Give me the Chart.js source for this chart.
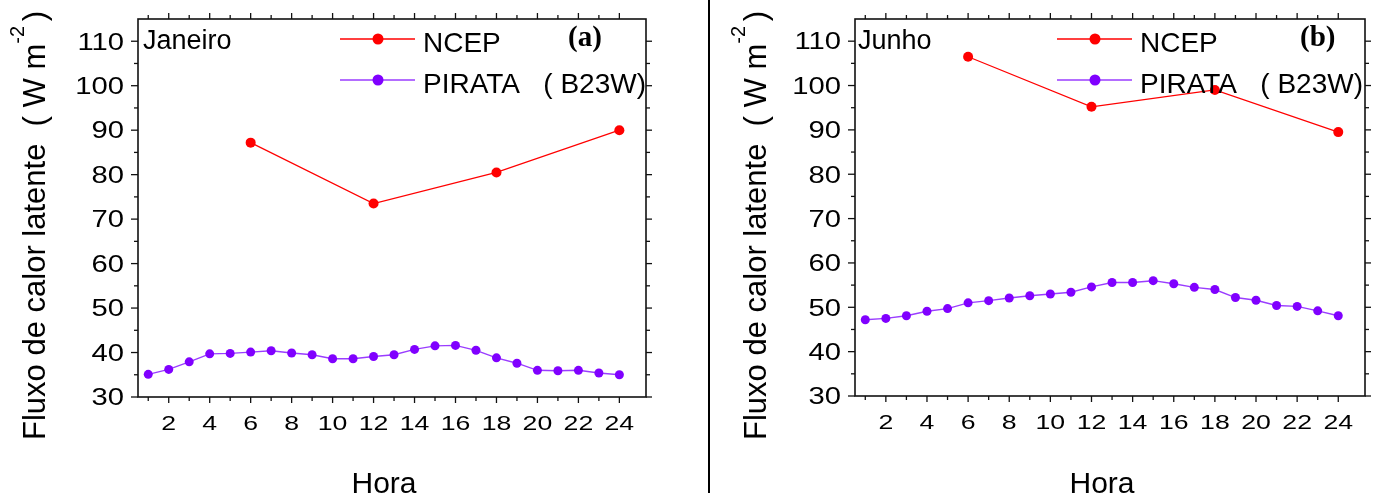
<!DOCTYPE html>
<html>
<head>
<meta charset="utf-8">
<script src="https://cdn.jsdelivr.net/npm/chart.js@4/dist/chart.umd.min.js"></script>
<style>
  body { margin: 0; background: #fff; width: 1380px; height: 495px; position: relative; overflow: hidden; }
  #sep { position: absolute; left: 708px; top: 0; width: 2px; height: 493px; background: #000; }
  #chart-a { position: absolute; left: 0; top: 0; }
  #chart-b { position: absolute; left: 710px; top: 0; }
</style>
</head>
<body>
<canvas id="chart-a" width="708" height="495"></canvas>
<div id="sep"></div>
<canvas id="chart-b" width="670" height="495"></canvas>
<script>
// data
const hours = [1, 2, 3, 4, 5, 6, 7, 8, 9, 10, 11, 12, 13, 14, 15, 16, 17, 18, 19, 20, 21, 22, 23, 24];
const ncepHours = [6, 12, 18, 24];

const janPirata = [35.1, 36.2, 37.9, 39.7, 39.8, 40.1, 40.4, 39.9, 39.5, 38.6, 38.6, 39.1,
  39.5, 40.7, 41.5, 41.6, 40.5, 38.8, 37.6, 36.0, 35.9, 36.0, 35.4, 35.0];
const janNcep = [87.2, 73.5, 80.5, 90.0];

const junPirata = [47.2, 47.5, 48.1, 49.1, 49.7, 51.0, 51.5, 52.1, 52.6, 53.0, 53.4, 54.6,
  55.6, 55.6, 56.0, 55.3, 54.5, 54.0, 52.2, 51.6, 50.4, 50.2, 49.2, 48.1];
const junNcep = [106.5, 95.2, 99.0, 89.5];

const xLabels = [2, 4, 6, 8, 10, 12, 14, 16, 18, 20, 22, 24];
const yLabels = [30, 40, 50, 60, 70, 80, 90, 100, 110];
const yMinor = [35, 45, 55, 65, 75, 85, 95, 105];
const seriesNames = ['NCEP', 'PIRATA   ( B23W)'];

const SANS = '"Liberation Sans", Arial, sans-serif';
const SERIF = '"Liberation Serif", "Times New Roman", serif';

function line(ctx, x1, y1, x2, y2) {
  ctx.beginPath();
  ctx.moveTo(x1, y1);
  ctx.lineTo(x2, y2);
  ctx.stroke();
}

// stretched tick text, like the original export
function tickText(ctx, txt, x, y, align) {
  ctx.save();
  ctx.translate(x, y);
  ctx.scale(1.27, 1);
  ctx.textAlign = align;
  ctx.fillText(txt, 0, 0);
  ctx.restore();
}

const panelPlugin = {
  id: 'panel',
  afterDraw(chart, args, opts) {
    const ctx = chart.ctx;
    const { left, right, top, bottom } = chart.chartArea;
    const xs = chart.scales.x;
    const ys = chart.scales.y;

    ctx.save();
    // frame
    ctx.strokeStyle = '#111';
    ctx.lineWidth = 1.6;
    ctx.strokeRect(left, top, right - left, bottom - top);

    // tick marks on all four sides
    ctx.lineWidth = 1.3;
    hours.forEach(h => {
      const px = xs.getPixelForValue(h);
      const len = h % 2 === 0 ? 6 : 4;
      line(ctx, px, bottom, px, bottom + len);
      line(ctx, px, top, px, top - len);
    });
    yLabels.forEach(v => {
      const py = ys.getPixelForValue(v);
      line(ctx, left - 7, py, left, py);
      line(ctx, right, py, right + 6, py);
    });
    yMinor.forEach(v => {
      const py = ys.getPixelForValue(v);
      line(ctx, left - 4, py, left, py);
      line(ctx, right, py, right + 4, py);
    });

    // tick labels
    ctx.fillStyle = '#000';
    ctx.textBaseline = 'alphabetic';
    ctx.font = '21px ' + SANS;
    xLabels.forEach(v => tickText(ctx, String(v), xs.getPixelForValue(v), bottom + 33, 'center'));
    ctx.font = '23px ' + SANS;
    yLabels.forEach(v => tickText(ctx, String(v), left - 14, ys.getPixelForValue(v) + 8.3, 'right'));

    // axis titles
    ctx.font = '30px ' + SANS;
    ctx.textAlign = 'center';
    ctx.fillText('Hora', (left + right) / 2 - 8, 493);

    ctx.save();
    ctx.translate(left - opts.yTitleGap, 440);
    ctx.rotate(-Math.PI / 2);
    ctx.textAlign = 'left';
    ctx.font = '31px ' + SANS;
    const main = 'Fluxo de calor latente  ( W m';
    ctx.fillText(main, 0, 0);
    let x = ctx.measureText(main).width;
    ctx.font = '20px ' + SANS;
    ctx.fillText('-2', x, -21);
    x += ctx.measureText('-2').width;
    ctx.font = '31px ' + SANS;
    ctx.fillText(' )', x - 4, 0);
    ctx.restore();

    // month and panel letter
    ctx.textAlign = 'left';
    ctx.font = '27px ' + SANS;
    ctx.fillText(opts.month, left + opts.monthDx, top + 30);
    ctx.font = 'bold 29px ' + SERIF;
    ctx.fillText(opts.letter, left + opts.letterDx, top + 27);

    // legend inside the plot
    const x0 = left + 202;
    chart.data.datasets.forEach((ds, i) => {
      const ry = top + 20 + i * 41;
      ctx.strokeStyle = ds.borderColor;
      ctx.lineWidth = 1.3;
      line(ctx, x0, ry, x0 + 75, ry);
      ctx.fillStyle = ds.pointBackgroundColor;
      ctx.beginPath();
      ctx.arc(x0 + 38, ry, 5.5, 0, Math.PI * 2);
      ctx.fill();
      ctx.fillStyle = '#000';
      ctx.font = '28px ' + SANS;
      ctx.fillText(ds.label, x0 + 83, ry + 13);
    });
    ctx.restore();
  }
};

function makeChart(id, cfg) {
  return new Chart(document.getElementById(id), {
    type: 'line',
    data: {
      datasets: [{
        label: seriesNames[0],
        data: ncepHours.map((h, i) => ({ x: h, y: cfg.ncep[i] })),
        borderColor: '#ff0000',
        pointBackgroundColor: '#ff0000',
        borderWidth: 1.2,
        pointRadius: 5,
        pointBorderWidth: 0
      }, {
        label: seriesNames[1],
        data: hours.map((h, i) => ({ x: h, y: cfg.pirata[i] })),
        borderColor: '#9a3dff',
        pointBackgroundColor: '#8000ff',
        borderWidth: 1.4,
        pointRadius: 4.5,
        pointBorderWidth: 0
      }]
    },
    options: {
      responsive: false,
      animation: false,
      events: [],
      layout: { padding: { top: 19, right: cfg.padRight, left: 0, bottom: 0 } },
      plugins: {
        legend: { display: false },
        tooltip: { enabled: false },
        panel: cfg.panel
      },
      scales: {
        x: {
          type: 'linear',
          min: 0.5,
          max: 25.3,
          grid: { display: false },
          border: { display: false },
          ticks: { display: false },
          afterFit: s => { s.height = cfg.xHeight; }
        },
        y: {
          min: 30,
          max: 115,
          grid: { display: false },
          border: { display: false },
          ticks: { display: false },
          afterFit: s => { s.width = cfg.yWidth; }
        }
      }
    },
    plugins: [panelPlugin]
  });
}

makeChart('chart-a', {
  ncep: janNcep, pirata: janPirata,
  padRight: 62, xHeight: 98, yWidth: 138,
  panel: { month: 'Janeiro', letter: '(a)', monthDx: 5, letterDx: 430, yTitleGap: 93 }
});

makeChart('chart-b', {
  ncep: junNcep, pirata: junPirata,
  padRight: 15, xHeight: 99, yWidth: 145,
  panel: { month: 'Junho', letter: '(b)', monthDx: 3, letterDx: 445, yTitleGap: 89 }
});
</script>
</body>
</html>
